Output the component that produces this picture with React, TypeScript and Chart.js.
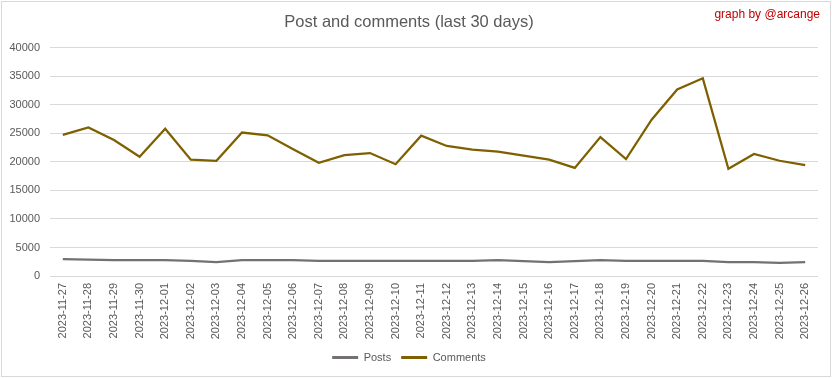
import React, { useEffect, useRef } from "react";
import { Chart, registerables } from "chart.js";

Chart.register(...registerables);

const dates = [
  "2023-11-27", "2023-11-28", "2023-11-29", "2023-11-30", "2023-12-01",
  "2023-12-02", "2023-12-03", "2023-12-04", "2023-12-05", "2023-12-06",
  "2023-12-07", "2023-12-08", "2023-12-09", "2023-12-10", "2023-12-11",
  "2023-12-12", "2023-12-13", "2023-12-14", "2023-12-15", "2023-12-16",
  "2023-12-17", "2023-12-18", "2023-12-19", "2023-12-20", "2023-12-21",
  "2023-12-22", "2023-12-23", "2023-12-24", "2023-12-25", "2023-12-26",
];

const posts = [
  2950, 2850, 2800, 2800, 2800, 2650, 2450, 2800, 2800, 2800,
  2650, 2650, 2650, 2650, 2650, 2650, 2650, 2800, 2600, 2450,
  2600, 2800, 2650, 2650, 2650, 2650, 2450, 2450, 2300, 2450,
];

const comments = [
  24750, 26050, 23850, 20900, 25800, 20400, 20200, 25150, 24650, 22200,
  19850, 21200, 21550, 19600, 24600, 22800, 22150, 21800, 21100, 20400,
  18950, 24350, 20500, 27400, 32700, 34650, 18800, 21400, 20200, 19450,
];

const yTicks = [0, 5000, 10000, 15000, 20000, 25000, 30000, 35000, 40000];

const titleText = "Post and comments (last 30 days)";
const creditText = "graph by @arcange";

const FONT = "'Liberation Sans', Arial, sans-serif";

export default function App() {
  const ref = useRef<HTMLCanvasElement | null>(null);

  useEffect(() => {
    document.body.style.margin = "0";
    const canvas = ref.current;
    if (!canvas) return;

    const framePlugin = {
      id: "frame",
      beforeDraw(chart: any) {
        const ctx = chart.ctx;
        ctx.save();
        ctx.fillStyle = "#ffffff";
        ctx.fillRect(0, 0, chart.width, chart.height);
        ctx.strokeStyle = "#D9D9D9";
        ctx.lineWidth = 1;
        ctx.strokeRect(1.5, 1.5, chart.width - 3, chart.height - 3);
        ctx.restore();
      },
      afterDraw(chart: any) {
        const ctx = chart.ctx;
        ctx.save();
        ctx.fillStyle = "#C00000";
        ctx.font = "12px " + FONT;
        ctx.textAlign = "right";
        ctx.textBaseline = "middle";
        ctx.fillText(creditText, 820, 15);
        ctx.restore();
      },
    };

    const chart = new Chart(canvas, {
      type: "line",
      data: {
        labels: dates,
        datasets: [
          {
            label: "Posts",
            data: posts,
            borderColor: "#767171",
            backgroundColor: "#767171",
            borderWidth: 2.25,
            pointRadius: 0,
            tension: 0,
          },
          {
            label: "Comments",
            data: comments,
            borderColor: "#7F6000",
            backgroundColor: "#7F6000",
            borderWidth: 2.25,
            pointRadius: 0,
            tension: 0,
          },
        ],
      },
      options: {
        animation: false,
        responsive: false,
        layout: { padding: { left: 0, right: 14, top: 0, bottom: 5 } },
        plugins: {
          title: {
            display: true,
            text: titleText,
            color: "#595959",
            font: { family: FONT, size: 16.5, weight: "normal" },
            padding: { top: 13, bottom: 15 },
          },
          legend: {
            position: "bottom",
            labels: {
              color: "#595959",
              font: { family: FONT, size: 11 },
              boxWidth: 26,
              boxHeight: 3,
              padding: 10,
              generateLabels(chart: any) {
                const items = Chart.defaults.plugins.legend.labels.generateLabels(chart);
                return items.map((it: any) => ({ ...it, lineWidth: 0 }));
              },
            },
          },
          tooltip: { enabled: false },
        },
        scales: {
          x: {
            offset: true,
            grid: { display: false, drawTicks: false },
            border: { display: false },
            ticks: {
              color: "#595959",
              font: { family: FONT, size: 11 },
              minRotation: 90,
              maxRotation: 90,
              autoSkip: false,
              padding: 7,
            },
            afterFit(scale: any) {
              scale.height = 66;
            },
          },
          y: {
            min: 0,
            max: 40000,
            grid: { color: "#D9D9D9", drawTicks: false },
            border: { display: false },
            afterBuildTicks(scale: any) {
              scale.ticks = yTicks.map((v) => ({ value: v }));
            },
            ticks: {
              color: "#595959",
              font: { family: FONT, size: 11 },
              padding: 10,
              callback: (v: any) => String(v),
            },
            afterFit(scale: any) {
              scale.width = 50;
            },
          },
        },
      },
      plugins: [framePlugin],
    });

    return () => chart.destroy();
  }, []);

  return (
    <div style={{ width: 832, height: 378 }}>
      <canvas ref={ref} width={832} height={378} style={{ display: "block" }} />
    </div>
  );
}
